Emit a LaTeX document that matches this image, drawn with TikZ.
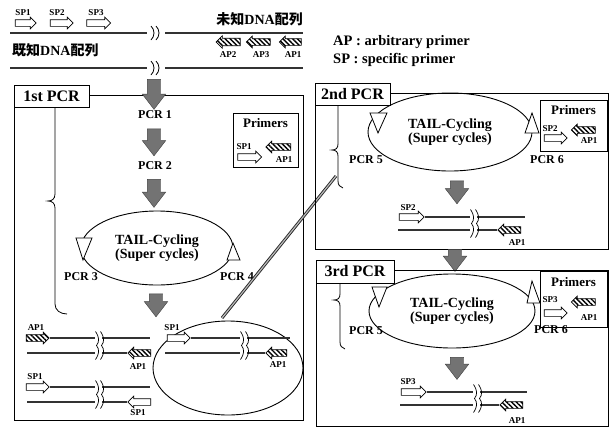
\documentclass[tikz,border=0pt]{standalone}
\usepackage{fontspec}
\setmainfont{Liberation Serif}
\newfontfamily\cjk{Noto Sans CJK JP}
\usetikzlibrary{shapes.geometric,shapes.arrows,patterns.meta}

\begin{document}
\begin{tikzpicture}[x=1pt,y=-1pt,
  lbl/.style={font=\bfseries\fontsize{9}{9}\selectfont, inner sep=0pt},
  pcrlbl/.style={font=\bfseries\fontsize{12}{12}\selectfont, inner sep=0pt},
  jplbl/.style={font=\bfseries\fontsize{14}{14}\selectfont, inner sep=0pt},
  lgnd/.style={font=\bfseries\fontsize{14.5}{14.5}\selectfont, inner sep=0pt, anchor=west},
  stage/.style={draw, fill=white, line width=0.9pt, font=\bfseries\fontsize{16}{16}\selectfont,
    minimum width=75, minimum height=22, inner sep=0pt},
  frame/.style={draw, line width=0.9pt, inner sep=0pt, anchor=north west},
  cyc/.style={draw, ellipse, line width=0.9pt, align=center, inner sep=0pt,
    font=\bfseries\fontsize{14}{14}\selectfont},
  sparr/.style={draw, fill=white, line width=0.7pt, single arrow, single arrow head extend=2.5pt,
    inner sep=3pt, minimum height=23},
  aparr/.style={sparr, shape border rotate=180, pattern={Lines[angle=-45,distance=3.4pt,line width=1.4pt]}},
  bigarr/.style={single arrow, shape border rotate=270, single arrow tip angle=75,
    single arrow head extend=5pt, inner sep=6.5pt, fill=black!55, draw=black!75},
  strand/.style={line width=1.3pt, black!80},
  tri/.style={draw, fill=white, line width=0.8pt},
  brace/.style={draw, line width=0.8pt},
  brk/.pic={\draw[line width=0.7pt] (-3,-14) .. controls (1,-8) and (1,-4) .. (-2,0) .. controls (1,4) and (1,8) .. (-3,14);
            \draw[line width=0.7pt] (2,-14) .. controls (6,-8) and (6,-4) .. (3,0) .. controls (6,4) and (6,8) .. (2,14);},
  topbrk/.pic={\draw[line width=0.8pt] (-4,-7) .. controls (0,-3) and (0,3) .. (-4,7);
               \draw[line width=0.8pt] (1,-7) .. controls (5,-3) and (5,3) .. (1,7);}]
\useasboundingbox (0,0) rectangle (611,429);

% known / unknown sequence
\node[lbl] (tsp1) at (23,13) {SP1};
\node[lbl] (tsp2) at (57,13) {SP2};
\node[lbl] (tsp3) at (96,13) {SP3};
\node[sparr, minimum height=21] (tsa1) at (24,23) {};
\node[sparr, minimum height=23] (tsa2) at (60,23) {};
\node[sparr, minimum height=24] (tsa3) at (97,23) {};
\node[jplbl, anchor=east] (unk) at (303,19) {{\cjk 未知}DNA{\cjk 配列}};
\node[jplbl, anchor=west] (knw) at (12,50) {{\cjk 既知}DNA{\cjk 配列}};
\coordinate (tl1) at (10,33); \coordinate (tl2) at (147,33);
\coordinate (tr1) at (165,33); \coordinate (tr2) at (303,33);
\coordinate (bl1) at (10,68); \coordinate (bl2) at (147,68);
\coordinate (br1) at (165,68); \coordinate (br2) at (303,68);
\draw[strand] (tl1) -- (tl2); \draw[strand] (tr1) -- (tr2);
\draw[strand] (bl1) -- (bl2); \draw[strand] (br1) -- (br2);
\pic at (155,33) {topbrk};
\pic at (155,68) {topbrk};
\node[aparr, minimum height=24] (tap2) at (230,42) {};
\node[aparr, minimum height=24] (tap3) at (260,42) {};
\node[aparr, minimum height=22] (tap1) at (292,42) {};
\node[lbl] (ltap2) at (228,55) {AP2};
\node[lbl] (ltap3) at (261,55) {AP3};
\node[lbl] (ltap1) at (293,55) {AP1};
\node[lgnd] (lgap) at (333,42) {AP : arbitrary primer};
\node[lgnd] (lgsp) at (333,60) {SP : specific primer};

% 1st PCR
\node[frame, minimum width=289, minimum height=325] (box1) at (14,95) {};
\node[stage] (st1) at (51.5,96) {1st PCR};
\draw[brace] (55,107) -- (55,194) .. controls (55,199) and (52,201) .. (48,201)
  .. controls (52,201) and (55,203) .. (55,208) -- (55,304) .. controls (55,310) and (60,314) .. (67,314);
\node[bigarr, minimum height=30] (g1) at (154,90) {};
\node[pcrlbl] (p1) at (155,115) {PCR 1};
\node[bigarr, minimum height=27] (g2) at (154,138) {};
\node[pcrlbl] (p2) at (155,166) {PCR 2};
\node[bigarr, minimum height=28] (g3) at (154,189) {};
\node[cyc, minimum width=152, minimum height=74] (cyc1) at (157,248) {TAIL-Cycling\\(Super cycles)};
\draw[tri] (76,238) -- (92,238) -- (83,260) -- cycle;
\draw[tri] (233,243) -- (240,260) -- (227,260) -- cycle;
\node[pcrlbl] (p3) at (81,277) {PCR 3};
\node[pcrlbl] (p4) at (237,277) {PCR 4};
\node[bigarr, minimum height=23] (g4) at (156,301) {};
% primers of 1st PCR
\node[frame, minimum width=65, minimum height=54] (pb1) at (233,113) {};
\node[font=\bfseries\fontsize{13}{13}\selectfont, inner sep=0pt] (pt1) at (265.5,123) {Primers};
\node[lbl] (psp1) at (244,147) {SP1};
\node[sparr, minimum height=24] (psa1) at (248,157) {};
\node[aparr, minimum height=25] (paa1) at (280,147) {};
\node[lbl] (pap1) at (284,160) {AP1};
% products AP1/AP1
\node[lbl] (la1) at (36,328) {AP1};
\node[aparr, shape border rotate=0] (aa1) at (36,338) {};
\coordinate (a1m) at (95,338); \coordinate (a1n) at (102,338); \coordinate (a1e) at (150,338);
\draw[strand] (aa1.tip) -- (a1m); \draw[strand] (a1n) -- (a1e);
\coordinate (b1s) at (27,353); \coordinate (b1m) at (95,353); \coordinate (b1n) at (102,353);
\node[aparr] (ab1) at (141,353) {};
\draw[strand] (b1s) -- (b1m); \draw[strand] (b1n) -- (ab1.tip);
\node[lbl] (lb1) at (138,367) {AP1};
\pic at (98.5,345.5) {brk};
% products SP1/SP1
\node[lbl] (la2) at (35,377) {SP1};
\node[sparr] (aa2) at (36,387) {};
\coordinate (a2m) at (95,387); \coordinate (a2n) at (102,387); \coordinate (a2e) at (150,387);
\draw[strand] (aa2.tip) -- (a2m); \draw[strand] (a2n) -- (a2e);
\coordinate (b2s) at (27,402); \coordinate (b2m) at (95,402); \coordinate (b2n) at (102,402);
\node[sparr, shape border rotate=180] (ab2) at (141,402) {};
\draw[strand] (b2s) -- (b2m); \draw[strand] (b2n) -- (ab2.tip);
\node[lbl] (lb2) at (138,413) {SP1};
\pic at (98.5,394.5) {brk};
% products SP1/AP1
\node[draw, ellipse, line width=0.9pt, minimum width=150, minimum height=94] (hl) at (228,368) {};
\node[lbl] (la3) at (172,328) {SP1};
\node[sparr] (aa3) at (177,338) {};
\coordinate (a3m) at (240,338); \coordinate (a3n) at (247,338); \coordinate (a3e) at (290,338);
\draw[strand] (aa3.tip) -- (a3m); \draw[strand] (a3n) -- (a3e);
\coordinate (b3s) at (165,353); \coordinate (b3m) at (240,353); \coordinate (b3n) at (247,353);
\node[aparr, minimum height=21] (ab3) at (278,353) {};
\draw[strand] (b3s) -- (b3m); \draw[strand] (b3n) -- (ab3.tip);
\node[lbl] (lb3) at (278,365) {AP1};
\pic at (243.5,345.5) {brk};
\coordinate (zoomA) at (222,318); \coordinate (zoomB) at (336,176);
\draw[line width=0.9pt, black!85, double=gray!55, double distance=1.2pt] (zoomA) -- (zoomB);

% 2nd PCR
\node[frame, minimum width=293, minimum height=156] (box2) at (315,93) {};
\node[stage] (st2) at (352.5,94) {2nd PCR};
\draw[brace] (338,105) -- (338,144) .. controls (338,148) and (336,150) .. (332,150)
  .. controls (336,150) and (338,152) .. (338,156) -- (338,181) .. controls (338,185) and (340,187) .. (343,188);
\node[cyc, minimum width=164, minimum height=78] (cyc2) at (450,132) {TAIL-Cycling\\(Super cycles)};
\draw[tri] (370,113) -- (387,113) -- (378,133) -- cycle;
\draw[tri] (532,113) -- (539,133) -- (525,133) -- cycle;
\node[pcrlbl] (p5) at (366,160) {PCR 5};
\node[pcrlbl] (p6) at (547,160) {PCR 6};
\node[frame, minimum width=67, minimum height=51] (pb2) at (540,100) {};
\node[font=\bfseries\fontsize{13}{13}\selectfont, inner sep=0pt] (pt2) at (573.5,110) {Primers};
\node[lbl] (psp2) at (550,129) {SP2};
\node[sparr, minimum height=23] (psa2) at (554,138) {};
\node[aparr, minimum height=24] (paa2) at (585,130) {};
\node[lbl] (pap2) at (589,141) {AP1};
\node[bigarr, minimum height=23] (g5) at (457,188) {};
\node[lbl] (la4) at (408,208) {SP2};
\node[sparr, minimum height=25] (aa4) at (410,217) {};
\coordinate (a4m) at (470,217); \coordinate (a4n) at (477,217); \coordinate (a4e) at (525,217);
\draw[strand] (aa4.tip) -- (a4m); \draw[strand] (a4n) -- (a4e);
\coordinate (b4s) at (398,230); \coordinate (b4m) at (470,230); \coordinate (b4n) at (477,230);
\node[aparr] (ab4) at (511,230) {};
\draw[strand] (b4s) -- (b4m); \draw[strand] (b4n) -- (ab4.tip);
\node[lbl] (lb4) at (517,243) {AP1};
\pic at (473.5,223.5) {brk};
\node[bigarr, minimum height=22] (g6) at (455,256) {};

% 3rd PCR
\node[frame, minimum width=292, minimum height=156] (box3) at (316,270) {};
\node[stage, minimum width=78, minimum height=23] (st3) at (355,271.5) {3rd PCR};
\draw[brace] (340,283) -- (340,294) .. controls (340,298) and (338,300) .. (334,300)
  .. controls (338,300) and (340,302) .. (340,306) -- (340,342) .. controls (340,346) and (342,348) .. (345,349);
\node[cyc, minimum width=166, minimum height=74] (cyc3) at (452,311) {TAIL-Cycling\\(Super cycles)};
\draw[tri] (372,287) -- (387,287) -- (379,307) -- cycle;
\draw[tri] (532,281) -- (540,303) -- (527,303) -- cycle;
\node[pcrlbl] (p7) at (366,331) {PCR 5};
\node[pcrlbl] (p8) at (551,330) {PCR 6};
\node[frame, minimum width=67, minimum height=56] (pb3) at (540,271) {};
\node[font=\bfseries\fontsize{13}{13}\selectfont, inner sep=0pt] (pt3) at (573.5,282) {Primers};
\node[lbl] (psp3) at (550,300) {SP3};
\node[sparr, minimum height=23] (psa3) at (554,313) {};
\node[aparr, minimum height=24] (paa3) at (585,302) {};
\node[lbl] (pap3) at (589,318) {AP1};
\node[bigarr, minimum height=22] (g7) at (457,364) {};
\node[lbl] (la5) at (408,382) {SP3};
\node[sparr, minimum height=25] (aa5) at (412,392) {};
\coordinate (a5m) at (473,392); \coordinate (a5n) at (480,392); \coordinate (a5e) at (527,392);
\draw[strand] (aa5.tip) -- (a5m); \draw[strand] (a5n) -- (a5e);
\coordinate (b5s) at (400,405); \coordinate (b5m) at (473,405); \coordinate (b5n) at (480,405);
\node[aparr] (ab5) at (513,405) {};
\draw[strand] (b5s) -- (b5m); \draw[strand] (b5n) -- (ab5.tip);
\node[lbl] (lb5) at (517,421) {AP1};
\pic at (476.5,398.5) {brk};
\end{tikzpicture}
\end{document}
